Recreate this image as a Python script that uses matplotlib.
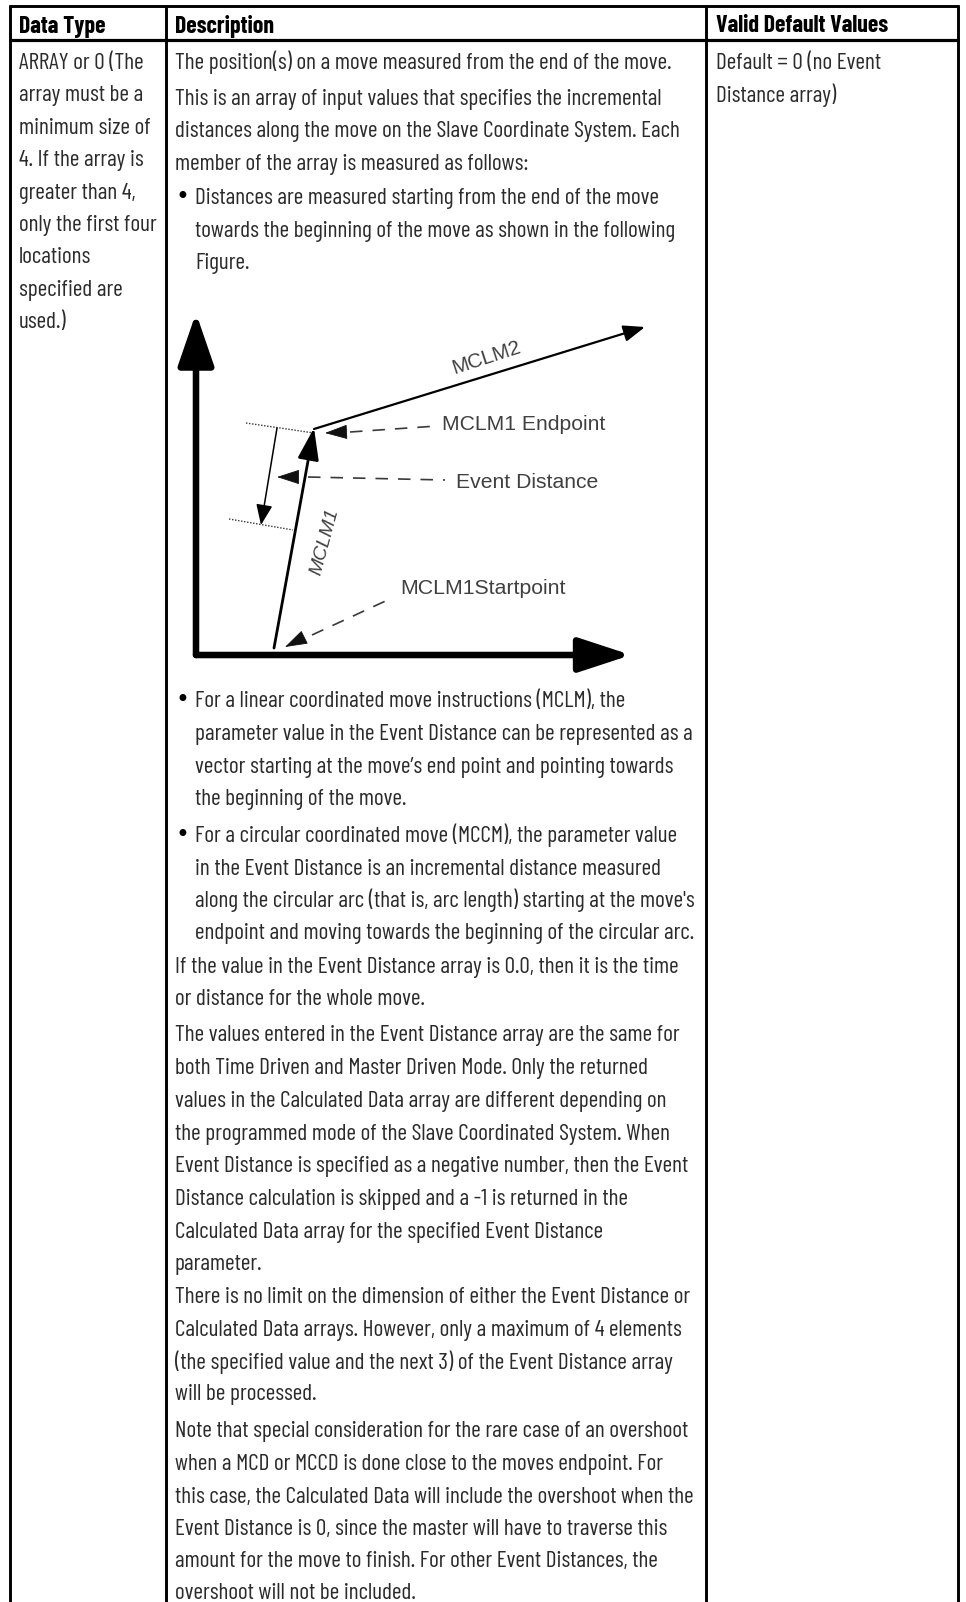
import matplotlib
matplotlib.use("Agg")
import matplotlib.pyplot as plt

WIDTH, HEIGHT = 966, 1602

NARROW = ["Barlow Condensed", "Liberation Sans"]

headers = ["Data Type", "Description", "Valid Default Values"]

data_type_lines = [
    "ARRAY or 0 (The", "array must be a", "minimum size of", "4. If the array is",
    "greater than 4,", "only the first four", "locations", "specified are", "used.)",
]
default_lines = ["Default = 0 (no Event", "Distance array)"]

desc_top = [
    ("The position(s) on a move measured from the end of the move.", False),
    ("This is an array of input values that specifies the incremental", False),
    ("distances along the move on the Slave Coordinate System. Each", False),
    ("member of the array is measured as follows:", False),
    ("Distances are measured starting from the end of the move", True),
    ("towards the beginning of the move as shown in the following", None),
    ("Figure.", None),
]
desc_top_y = [62, 98, 130, 163, 197, 230, 262]

desc_bottom = [
    ("For a linear coordinated move instructions (MCLM), the", True),
    ("parameter value in the Event Distance can be represented as a", None),
    ("vector starting at the move’s end point and pointing towards", None),
    ("the beginning of the move.", None),
    ("For a circular coordinated move (MCCM), the parameter value", True),
    ("in the Event Distance is an incremental distance measured", None),
    ("along the circular arc (that is, arc length) starting at the move's", None),
    ("endpoint and moving towards the beginning of the circular arc.", None),
    ("If the value in the Event Distance array is 0.0, then it is the time", False),
    ("or distance for the whole move.", False),
    ("The values entered in the Event Distance array are the same for", False),
    ("both Time Driven and Master Driven Mode. Only the returned", False),
    ("values in the Calculated Data array are different depending on", False),
    ("the programmed mode of the Slave Coordinated System. When", False),
    ("Event Distance is specified as a negative number, then the Event", False),
    ("Distance calculation is skipped and a -1 is returned in the", False),
    ("Calculated Data array for the specified Event Distance", False),
    ("parameter.", False),
    ("There is no limit on the dimension of either the Event Distance or", False),
    ("Calculated Data arrays. However, only a maximum of 4 elements", False),
    ("(the specified value and the next 3) of the Event Distance array", False),
    ("will be processed.", False),
    ("Note that special consideration for the rare case of an overshoot", False),
    ("when a MCD or MCCD is done close to the moves endpoint. For", False),
    ("this case, the Calculated Data will include the overshoot when the", False),
    ("Event Distance is 0, since the master will have to traverse this", False),
    ("amount for the move to finish. For other Event Distances, the", False),
    ("overshoot will not be included.", False),
]
desc_bottom_y = [700, 733, 766, 798, 835, 868, 900, 932, 966, 998, 1034, 1067, 1100,
                 1133, 1165, 1198, 1231, 1263, 1296, 1329, 1362, 1393, 1430, 1463,
                 1496, 1528, 1560, 1592]

col_lines_x = [10, 166, 706, 958]
text_x = [19, 175, 716]
BULLET_X = 175.5
INDENT_X = 195
BODY = 16.85
INK = "#2b2b2b"
DIAG = "#404040"

fig = plt.figure(figsize=(WIDTH / 100, HEIGHT / 100), dpi=100, facecolor="white")
ax = fig.add_axes([0, 0, 1, 1])
ax.set_xlim(0, WIDTH)
ax.set_ylim(HEIGHT, 0)
ax.axis("off")


def body(x, y, s):
    ax.text(x, y + 7, s, fontsize=BODY, family=NARROW, color=INK, va="baseline", ha="left")


# table rules
for x in col_lines_x:
    ax.plot([x, x], [5, HEIGHT], color="black", lw=2.1, solid_capstyle="butt")
ax.plot([col_lines_x[0] - 1, col_lines_x[-1] + 1], [6, 6], color="black", lw=2.1, solid_capstyle="butt")
ax.plot([col_lines_x[0] - 1, col_lines_x[-1] + 1], [40, 40], color="black", lw=2.3, solid_capstyle="butt")

for x, h in zip(text_x, headers):
    ax.text(x, 32.5, h, fontsize=17.2, family=NARROW, fontweight="bold", color="black", va="baseline")

for i, line in enumerate(data_type_lines):
    body(text_x[0], 62 + i * 32.4, line)
for i, line in enumerate(default_lines):
    body(text_x[2], 62 + i * 33, line)

for (line, bullet), y in zip(desc_top + desc_bottom, desc_top_y + desc_bottom_y):
    if bullet is True:
        ax.text(BULLET_X, y + 7, "•", fontsize=17, family="DejaVu Sans", color="black", va="baseline")
    body(text_x[1] if bullet is False else INDENT_X, y, line)


# figure: axes, moves and their labels
def arrow(start, end, lw, head_len, head_w, color="black"):
    ax.annotate("", xy=end, xytext=start, zorder=3,
                arrowprops=dict(arrowstyle=f"-|>,head_length={head_len},head_width={head_w}",
                                lw=lw, color=color, shrinkA=0, shrinkB=0, mutation_scale=10))


origin = (196, 655)
y_axis_tip = (196, 313)
x_axis_tip = (631, 655)
mclm1 = [(274, 648), (314, 428)]
mclm2 = [(314, 429), (645, 327)]
dist_arrow = [(277, 428), (261, 525)]
ticks = [[(246, 423), (314, 433)], [(229, 519), (293, 530)]]
dash_lines = [[(350, 432), (437, 426)], [(308, 477), (445, 480)], [(312, 635), (392, 598)]]
dash_heads = [[(345, 432), (325, 433)], [(298, 477), (277, 477)], [(303, 638), (285, 647)]]

arrow(origin, y_axis_tip, 4.7, 3.2, 1.1)
arrow(origin, x_axis_tip, 4.7, 3.2, 1.05)
arrow(*mclm1, 2.0, 1.95, 0.65)
arrow(*mclm2, 1.6, 1.3, 0.5)
arrow(*dist_arrow, 1.1, 1.25, 0.5)
for a, b in ticks:
    ax.plot([a[0], b[0]], [a[1], b[1]], color="#333333", lw=1, ls=(0, (1, 1.2)))
for a, b in dash_lines:
    ax.plot([a[0], b[0]], [a[1], b[1]], color="#3a3a3a", lw=1.2, ls=(0, (7.5, 6)))
for a, b in dash_heads:
    arrow(a, b, 0.6, 1.45, 0.47, color="#111111")

ax.text(442, 425, "MCLM1 Endpoint", fontsize=15.2, family="Liberation Sans", color=DIAG, va="center")
ax.text(456, 483, "Event Distance", fontsize=15.2, family="Liberation Sans", color=DIAG, va="center")
ax.text(400, 588, "MCLM1Startpoint", fontsize=15.3, family="Liberation Sans", color=DIAG, va="center")
ax.text(487, 358, "MCLM2", fontsize=14.8, family="Liberation Sans", color=DIAG, va="center", ha="center",
        rotation=18, rotation_mode="anchor")
ax.text(325, 542, "MCLM1", fontsize=14, family="Liberation Sans", style="italic", color=DIAG,
        va="center", ha="center", rotation=75, rotation_mode="anchor")

fig.savefig("out.png", dpi=100)
